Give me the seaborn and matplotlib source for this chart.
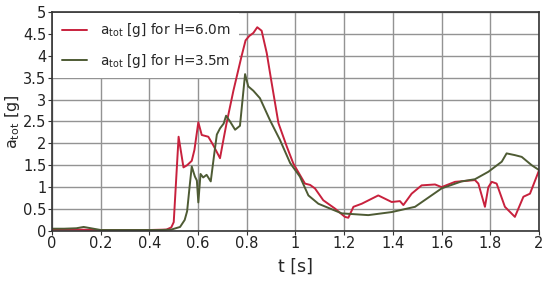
import pandas as pd
import matplotlib
matplotlib.use("Agg")
import matplotlib.pyplot as plt
import seaborn as sns

# valores
t_h60 = [0.00, 0.10, 0.20, 0.30, 0.40, 0.47, 0.49, 0.50, 0.52, 0.54, 0.555, 0.574,
         0.585, 0.601, 0.615, 0.642, 0.663, 0.690, 0.704, 0.717, 0.745, 0.779, 0.795,
         0.81, 0.827, 0.843, 0.861, 0.882, 0.90, 0.93, 0.964, 0.991, 1.018, 1.039,
         1.06, 1.080, 1.114, 1.162, 1.203, 1.217, 1.238, 1.272, 1.340, 1.395, 1.429,
         1.443, 1.477, 1.518, 1.573, 1.600, 1.655, 1.737, 1.751, 1.778, 1.792, 1.806,
         1.826, 1.860, 1.901, 1.936, 1.963, 2.0]
a_h60 = [0.03, 0.03, 0.02, 0.02, 0.02, 0.03, 0.08, 0.20, 2.15, 1.45, 1.50, 1.60,
         1.85, 2.48, 2.19, 2.15, 1.95, 1.66, 2.08, 2.46, 3.20, 4.00, 4.35,
         4.45, 4.52, 4.65, 4.57, 4.06, 3.45, 2.46, 1.93, 1.54, 1.28, 1.08,
         1.05, 0.97, 0.70, 0.51, 0.32, 0.30, 0.55, 0.62, 0.81, 0.66, 0.68,
         0.59, 0.85, 1.04, 1.06, 1.00, 1.12, 1.16, 1.08, 0.55, 1.00, 1.12,
         1.08, 0.55, 0.32, 0.78, 0.85, 1.38]

t_h35 = [0.00, 0.05, 0.10, 0.13, 0.17, 0.20, 0.30, 0.45, 0.49, 0.526, 0.545, 0.555,
         0.565, 0.574, 0.587, 0.595, 0.601, 0.61, 0.621, 0.635, 0.652, 0.666, 0.677,
         0.69, 0.705, 0.715, 0.731, 0.752, 0.772, 0.793, 0.806, 0.827, 0.854, 0.895,
         0.936, 0.978, 1.018, 1.053, 1.094, 1.142, 1.190, 1.299, 1.395, 1.491, 1.600,
         1.682, 1.737, 1.792, 1.847, 1.867, 1.901, 1.929, 1.970, 2.0]
a_h35 = [0.05, 0.05, 0.06, 0.09, 0.05, 0.02, 0.02, 0.02, 0.03, 0.09, 0.25, 0.45,
         1.00, 1.47, 1.24, 1.15, 0.65, 1.30, 1.22, 1.28, 1.13, 1.74, 2.20,
         2.34, 2.45, 2.63, 2.50, 2.31, 2.40, 3.58, 3.30, 3.20, 3.03, 2.53,
         2.08, 1.55, 1.24, 0.81, 0.62, 0.51, 0.40, 0.36, 0.43, 0.55, 0.97,
         1.13, 1.18, 1.35, 1.58, 1.77, 1.73, 1.69, 1.50, 1.39]

lbl_h60 = r"a$_{\mathrm{tot}}$ [g] for H=6.0m"
lbl_h35 = r"a$_{\mathrm{tot}}$ [g] for H=3.5m"

df = pd.concat([
    pd.DataFrame({"t": t_h60, "a": a_h60, "serie": lbl_h60}),
    pd.DataFrame({"t": t_h35, "a": a_h35, "serie": lbl_h35}),
])

sns.set_style("ticks")
plt.rcParams["font.family"] = ["DejaVu Sans"]
plt.rcParams["mathtext.fontset"] = "dejavusans"

fig, ax = plt.subplots(figsize=(5.5, 2.84), dpi=100)
fig.subplots_adjust(left=0.0945, right=0.98, top=0.958, bottom=0.187)

sns.lineplot(data=df, x="t", y="a", hue="serie", sort=False,
             palette={lbl_h60: "#c8213d", lbl_h35: "#4e5b34"},
             linewidth=1.4, ax=ax)

ax.set_xlim(0, 2)
ax.set_ylim(0, 5)
ax.set_xticks([0, 0.2, 0.4, 0.6, 0.8, 1, 1.2, 1.4, 1.6, 1.8, 2])
ax.set_xticklabels(["0", "0.2", "0.4", "0.6", "0.8", "1", "1.2", "1.4", "1.6", "1.8", "2"])
ax.set_yticks([0, 0.5, 1, 1.5, 2, 2.5, 3, 3.5, 4, 4.5, 5])
ax.set_yticklabels(["0", "0.5", "1", "1.5", "2", "2.5", "3", "3.5", "4", "4.5", "5"])
ax.grid(True, color="#939393", linewidth=1.0)
ax.set_axisbelow(True)
for s in ax.spines.values():
    s.set_color("#333333")
    s.set_linewidth(1.2)
ax.tick_params(labelsize=10.5, length=3, colors="#333333", labelcolor="#222222", pad=1)

ax.set_xlabel("t [s]", fontsize=12.5)
ax.xaxis.set_label_coords(0.5, -0.165)
ax.xaxis.label.set_va("center")
ax.set_ylabel(r"a$_{\mathrm{tot}}$ [g]", fontsize=11.5)
ax.yaxis.set_label_coords(-0.082, 0.5)
ax.yaxis.label.set_va("center")

leg = ax.legend(loc="upper left", fontsize=9.8, frameon=True, handlelength=1.9,
                handletextpad=0.9, borderaxespad=0.1, labelspacing=0.9, borderpad=0.6)
leg.get_frame().set_facecolor("white")
leg.get_frame().set_edgecolor("none")
leg.get_frame().set_alpha(1)
leg.get_frame().set_boxstyle("square", pad=0)
leg.set_zorder(1.5)

plt.savefig("out.png", dpi=100)
